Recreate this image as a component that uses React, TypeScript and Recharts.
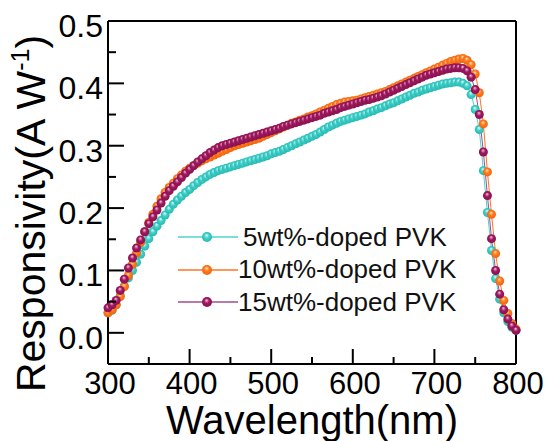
import React from 'react';
import { LineChart, Line, XAxis, YAxis, ReferenceLine, Legend } from 'recharts';

const wavelengths = [
  300, 305, 310, 315, 320, 325, 330, 335, 340, 345,
  350, 355, 360, 365, 370, 375, 380, 385, 390, 395,
  400, 405, 410, 415, 420, 425, 430, 435, 440, 445,
  450, 455, 460, 465, 470, 475, 480, 485, 490, 495,
  500, 505, 510, 515, 520, 525, 530, 535, 540, 545,
  550, 555, 560, 565, 570, 575, 580, 585, 590, 595,
  600, 605, 610, 615, 620, 625, 630, 635, 640, 645,
  650, 655, 660, 665, 670, 675, 680, 685, 690, 695,
  700, 705, 710, 715, 720, 725, 730, 735, 740, 745,
  750, 755, 760, 765, 770, 775, 780, 785, 790, 795,
  800,
];

const doped5 = [
  0.032, 0.036, 0.045, 0.06, 0.075, 0.088, 0.1, 0.113, 0.126, 0.139,
  0.151, 0.162, 0.171, 0.18, 0.189, 0.198, 0.206, 0.213, 0.219, 0.225,
  0.23, 0.236, 0.241, 0.246, 0.25, 0.254, 0.257, 0.26, 0.262, 0.264,
  0.266, 0.268, 0.27, 0.272, 0.274, 0.276, 0.278, 0.28, 0.282, 0.284,
  0.287, 0.289, 0.291, 0.294, 0.297, 0.3, 0.303, 0.306, 0.309, 0.312,
  0.315, 0.318, 0.322, 0.326, 0.33, 0.333, 0.336, 0.339, 0.341, 0.343,
  0.345, 0.347, 0.349, 0.351, 0.354, 0.356, 0.359, 0.361, 0.364, 0.367,
  0.369, 0.372, 0.375, 0.378, 0.381, 0.384, 0.386, 0.389, 0.391, 0.393,
  0.395, 0.397, 0.399, 0.4, 0.401, 0.402, 0.402, 0.4, 0.396, 0.382,
  0.358, 0.326, 0.26, 0.193, 0.132, 0.087, 0.054, 0.032, 0.018, 0.009,
  0.004,
];

const doped10 = [
  0.032, 0.037, 0.045, 0.058, 0.074, 0.092, 0.11, 0.128, 0.145, 0.162,
  0.177, 0.19, 0.203, 0.215, 0.225, 0.233, 0.24, 0.247, 0.253, 0.259,
  0.264, 0.268, 0.272, 0.276, 0.279, 0.282, 0.285, 0.288, 0.291, 0.294,
  0.297, 0.3, 0.302, 0.304, 0.306, 0.308, 0.31, 0.312, 0.315, 0.318,
  0.321, 0.324, 0.327, 0.33, 0.333, 0.336, 0.338, 0.341, 0.343, 0.346,
  0.348, 0.351, 0.354, 0.357, 0.36, 0.363, 0.366, 0.368, 0.37, 0.371,
  0.372, 0.373, 0.375, 0.377, 0.379, 0.381, 0.383, 0.385, 0.387, 0.39,
  0.393, 0.396, 0.399, 0.402, 0.405, 0.408, 0.411, 0.414, 0.417, 0.42,
  0.423, 0.426, 0.429, 0.432, 0.435, 0.437, 0.439, 0.44, 0.437, 0.43,
  0.415, 0.385, 0.335, 0.258, 0.19, 0.127, 0.083, 0.052, 0.031, 0.015,
  0.006,
];

const doped15 = [
  0.04, 0.045, 0.052, 0.068, 0.086, 0.104, 0.12, 0.136, 0.149, 0.162,
  0.175, 0.186, 0.197, 0.208, 0.219, 0.228, 0.235, 0.242, 0.249, 0.256,
  0.262, 0.268, 0.274, 0.279, 0.284, 0.289, 0.293, 0.297, 0.3, 0.302,
  0.304, 0.306, 0.308, 0.31, 0.312, 0.314, 0.316, 0.318, 0.32, 0.322,
  0.324, 0.326, 0.328, 0.331, 0.333, 0.335, 0.337, 0.339, 0.341, 0.343,
  0.345, 0.347, 0.349, 0.352, 0.354, 0.356, 0.358, 0.361, 0.363, 0.365,
  0.367, 0.369, 0.371, 0.373, 0.374, 0.376, 0.378, 0.38, 0.383, 0.386,
  0.389, 0.392, 0.395, 0.398, 0.401, 0.404, 0.407, 0.41, 0.413, 0.415,
  0.417, 0.419, 0.421, 0.423, 0.424, 0.425, 0.425, 0.424, 0.42, 0.41,
  0.39, 0.35, 0.29, 0.22, 0.151, 0.1, 0.062, 0.037, 0.022, 0.011,
  0.004,
];

const seriesNames = ['5wt%-doped PVK', '10wt%-doped PVK', '15wt%-doped PVK'];
const xTicks = [300, 350, 400, 450, 500, 550, 600, 650, 700, 750, 800];
const yTicks = [0, 0.05, 0.1, 0.15, 0.2, 0.25, 0.3, 0.35, 0.4, 0.45, 0.5];

const data = wavelengths.map((wl, i) => ({
  wl,
  d5: doped5[i],
  d10: doped10[i],
  d15: doped15[i],
}));

const FONT = '"Liberation Sans", Arial, sans-serif';

const series = [
  { key: 'd5', name: seriesNames[0], line: '#4fd3cc', grad: 'gCyan' },
  { key: 'd10', name: seriesNames[1], line: '#ff7424', grad: 'gOrange' },
  { key: 'd15', name: seriesNames[2], line: '#a34c8c', grad: 'gPurple' },
];

const XTick = (props: any) => {
  const { x, y, payload } = props;
  const v = payload.value;
  const major = v % 100 === 0;
  return (
    <g>
      <line x1={x} y1={y} x2={x} y2={y - (major ? 15 : 7)} stroke="#000" strokeWidth={2} />
      {major && (
        <text x={x + 2} y={y + 30} textAnchor="middle" fontSize={31} fontFamily={FONT} fill="#000">
          {v}
        </text>
      )}
    </g>
  );
};

const YTick = (props: any) => {
  const { x, y, payload } = props;
  const v = payload.value;
  const major = Math.round(v * 100) % 10 === 0;
  return (
    <g>
      <line x1={x} y1={y} x2={x + (major ? 16 : 8)} y2={y} stroke="#000" strokeWidth={2} />
      {major && (
        <text x={x - 5} y={y + 16} textAnchor="end" fontSize={32} fontFamily={FONT} fill="#000">
          {v.toFixed(1)}
        </text>
      )}
    </g>
  );
};

const makeDot = (grad: string) => (props: any) => {
  const { cx, cy, index } = props;
  if (cx == null || cy == null) return <g key={index} />;
  return <circle key={index} cx={cx} cy={cy} r={4.5} fill={`url(#${grad})`} />;
};

const LegendBox = () => (
  <div style={{ fontFamily: FONT, fontSize: 26, color: '#111' }}>
    {series.map((s, i) => (
      <div key={s.key} style={{ display: 'flex', alignItems: 'center', height: 32.5 }}>
        <svg width={60} height={14} style={{ display: 'block' }}>
          <line x1={0} y1={7} x2={60} y2={7} stroke={s.line} strokeWidth={1.5} />
          <circle cx={29} cy={7} r={5} fill={`url(#${s.grad})`} />
        </svg>
        <span style={{ paddingLeft: i === 0 ? 5 : 0, whiteSpace: 'nowrap' }}>{s.name}</span>
      </div>
    ))}
  </div>
);

export default function App() {
  return (
    <div style={{ position: 'absolute', left: 0, top: 0, width: 551, height: 441, background: '#fff' }}>
      <LineChart width={551} height={441} data={data} margin={{ top: 21, right: 35, bottom: 0, left: 0 }}>
        <defs>
          <radialGradient id="gCyan" cx="50%" cy="50%" r="55%" fx="45%" fy="30%">
            <stop offset="0%" stopColor="#e0fcfa" />
            <stop offset="45%" stopColor="#3fd0c8" />
            <stop offset="100%" stopColor="#22b5ae" />
          </radialGradient>
          <radialGradient id="gOrange" cx="50%" cy="50%" r="55%" fx="45%" fy="30%">
            <stop offset="0%" stopColor="#ffdcb8" />
            <stop offset="45%" stopColor="#ff7a1c" />
            <stop offset="100%" stopColor="#f0600a" />
          </radialGradient>
          <radialGradient id="gPurple" cx="50%" cy="50%" r="55%" fx="45%" fy="30%">
            <stop offset="0%" stopColor="#f4c4e0" />
            <stop offset="45%" stopColor="#a0185f" />
            <stop offset="100%" stopColor="#85104c" />
          </radialGradient>
        </defs>
        <XAxis
          dataKey="wl"
          type="number"
          domain={[300, 800]}
          ticks={xTicks}
          interval={0}
          height={77}
          tickSize={0}
          tickMargin={0}
          tickLine={false}
          tick={<XTick />}
          axisLine={{ stroke: '#000', strokeWidth: 2 }}
          label={{
            content: ({ viewBox }: any) => (
              <text
                x={viewBox.x + viewBox.width / 2}
                y={viewBox.y + 70}
                textAnchor="middle"
                fontSize={40}
                fontFamily={FONT}
                fill="#000"
              >
                Wavelength(nm)
              </text>
            ),
          }}
        />
        <YAxis
          type="number"
          domain={[-0.05, 0.5]}
          ticks={yTicks}
          interval={0}
          width={108}
          tickSize={0}
          tickMargin={0}
          tickLine={false}
          tick={<YTick />}
          axisLine={{ stroke: '#000', strokeWidth: 2 }}
          label={{
            content: ({ viewBox }: any) => (
              <text
                transform={`translate(45, ${viewBox.y + viewBox.height / 2 + 21}) rotate(-90)`}
                textAnchor="middle"
                fontSize={41}
                fontFamily={FONT}
                fill="#000"
              >
                Responsivity(A W
                <tspan fontSize={25} dy={-16}>-1</tspan>
                <tspan dy={16}>)</tspan>
              </text>
            ),
          }}
        />
        <ReferenceLine y={0.5} stroke="#000" strokeWidth={2} />
        <ReferenceLine x={800} stroke="#000" strokeWidth={2} />
        {series.map((s) => (
          <Line
            key={s.key}
            dataKey={s.key}
            name={s.name}
            type="linear"
            stroke={s.line}
            strokeWidth={1}
            dot={makeDot(s.grad)}
            activeDot={false}
            isAnimationActive={false}
          />
        ))}
        <Legend
          layout="vertical"
          align="center"
          verticalAlign="middle"
          wrapperStyle={{ left: 178, top: 221, width: 320 }}
          content={() => <LegendBox />}
        />
      </LineChart>
    </div>
  );
}
